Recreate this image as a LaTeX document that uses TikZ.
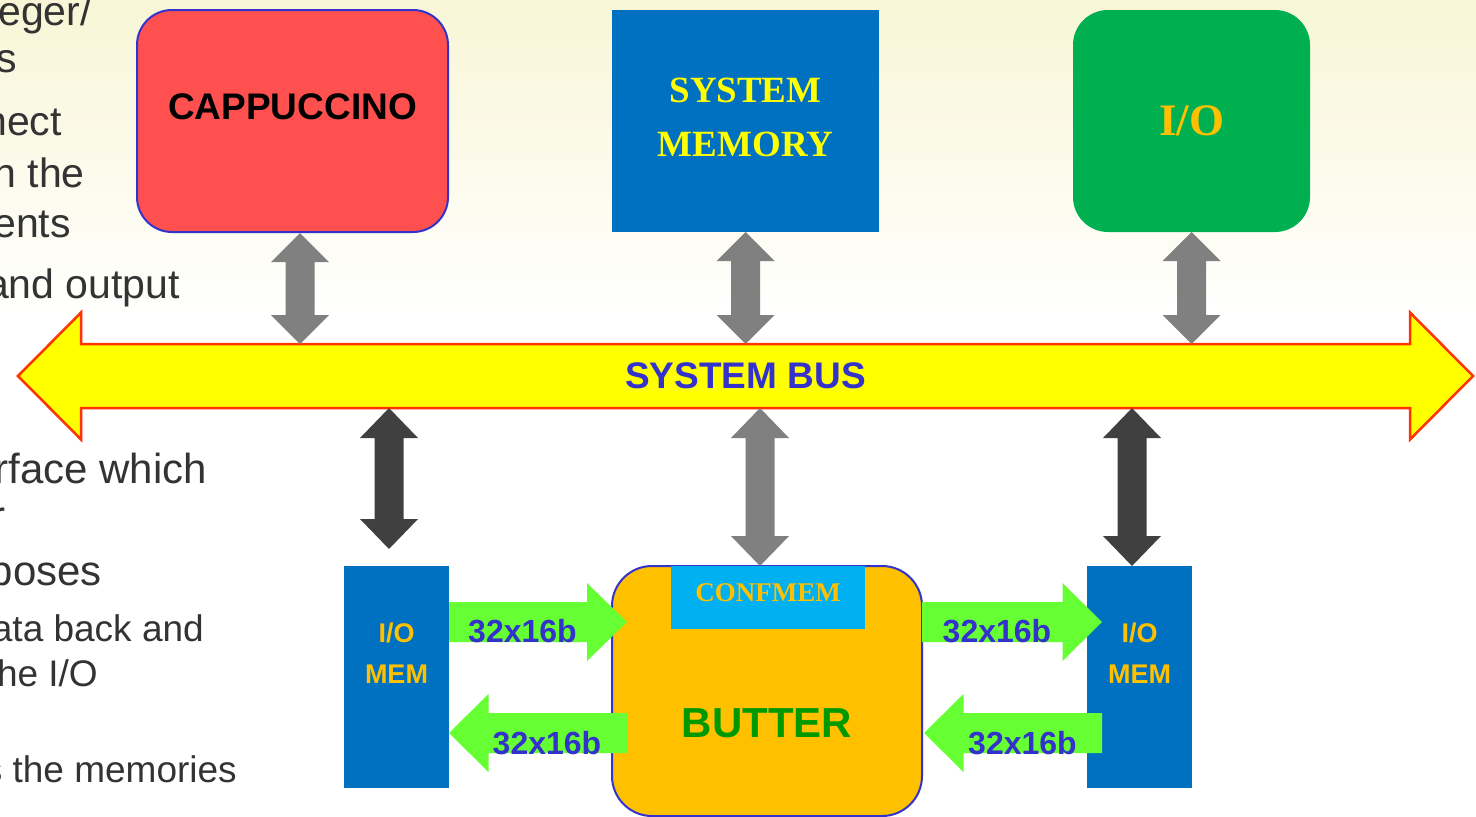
\documentclass[tikz,border=0pt]{standalone}
\usepackage{fontspec}
\setmainfont{Liberation Sans}
\newfontfamily\serifface{Liberation Serif}
\usetikzlibrary{calc}
\definecolor{bgtop}{HTML}{F8F6D6}
\definecolor{slidegray}{HTML}{333333}
\definecolor{capred}{HTML}{FF5050}
\definecolor{frameblue}{HTML}{3333CC}
\definecolor{memblue}{HTML}{0070C0}
\definecolor{iogreen}{HTML}{00B050}
\definecolor{gold}{HTML}{FFC000}
\definecolor{busyellow}{HTML}{FFFF00}
\definecolor{busedge}{HTML}{FF3300}
\definecolor{arrowgray}{HTML}{808080}
\definecolor{arrowdark}{HTML}{404040}
\definecolor{lime}{HTML}{66FF33}
\definecolor{cfcyan}{HTML}{00B0F0}
\definecolor{butgreen}{HTML}{009900}

% fat two-headed arrow: style, from, to, head length, shaft half width, head half width
\newcommand{\biarrow}[6]{%
  \path ($(#2)!#4!(#3)$) coordinate (hdA) ($(#3)!#4!(#2)$) coordinate (hdB);
  \path[#1] (#2) -- ($(hdA)!#6!90:(#3)$) -- ($(hdA)!#5!90:(#3)$) -- ($(hdB)!#5!90:(#3)$)
    -- ($(hdB)!#6!90:(#3)$) -- (#3) -- ($(hdB)!#6!-90:(#3)$) -- ($(hdB)!#5!-90:(#3)$)
    -- ($(hdA)!#5!-90:(#3)$) -- ($(hdA)!#6!-90:(#3)$) -- cycle;}
% fat one-headed arrow, same arguments
\newcommand{\onearrow}[6]{%
  \path ($(#3)!#4!(#2)$) coordinate (hdB);
  \path[#1] ($(#2)!#5!90:(#3)$) -- ($(hdB)!#5!90:(#3)$) -- ($(hdB)!#6!90:(#3)$) -- (#3)
    -- ($(hdB)!#6!-90:(#3)$) -- ($(hdB)!#5!-90:(#3)$) -- ($(#2)!#5!-90:(#3)$) -- cycle;}

\tikzset{
  slide/.style={anchor=base east,inner sep=0pt,text=slidegray,font=\fontsize{41}{48}\selectfont},
  slidebig/.style={slide,font=\fontsize{42}{50}\selectfont},
  slidesm/.style={slide,font=\fontsize{37}{44}\selectfont},
  block/.style={inner sep=0pt,outer sep=0pt},
  bits/.style={inner sep=0pt,text=frameblue,font=\bfseries\fontsize{32}{38}\selectfont},
  memtext/.style={inner sep=0pt,align=center,text=gold,font=\bfseries\fontsize{27}{41}\selectfont}
}

\begin{document}
\begin{tikzpicture}[x=1pt,y=-1pt]
\useasboundingbox (0,0) rectangle (1476,817);
\clip (0,0) rectangle (1476,817);
\shade[top color=bgtop,bottom color=white] (0,0) rectangle (1476,320);

% text of the slide, cut at the left edge
\node[slide] (t1) at (92,25) {eger/};
\node[slide] (t2) at (17,72) {s};
\node[slide] (t3) at (62,135) {nect};
\node[slide] (t4) at (85,187) {n the};
\node[slide] (t5) at (71,237) {ents};
\node[slide] (t6) at (180,298) {and output};
\node[slidebig] (t7) at (207,483) {rface which};
\node[slidebig] (t8) at (6,530) {r};
\node[slidebig] (t9) at (102,585) {poses};
\node[slidesm] (t10) at (204,641) {ata back and};
\node[slidesm] (t11) at (98,686) {he I/O};
\node[slidesm] (t12) at (237,782) {s the memories};

% system bus
\coordinate (busL) at (18,376);
\coordinate (busR) at (1473,376);
\biarrow{fill=busyellow,draw=busedge,line width=2.5pt}{busL}{busR}{63pt}{32pt}{63.5pt}
\node[block,minimum width=1200pt,minimum height=64pt,text=frameblue,
  font=\bfseries\fontsize{37}{44}\selectfont] (bus) at (745.5,376) {SYSTEM BUS};

% top row
\node[block,fill=capred,draw=frameblue,line width=2pt,rounded corners=35pt,
  minimum width=311pt,minimum height=222pt] (cap) at (292.5,121) {};
\node[inner sep=0pt,font=\bfseries\fontsize{37}{44}\selectfont] (capT) at (292.5,107) {CAPPUCCINO};
\node[block,fill=memblue,minimum width=267pt,minimum height=222pt] (sysmem) at (745.5,121) {};
\node[inner sep=0pt,align=center,text=busyellow,
  font=\serifface\bfseries\fontsize{37}{54}\selectfont] (sysmemT) at (745.5,117) {SYSTEM\\MEMORY};
\node[block,fill=iogreen,rounded corners=35pt,minimum width=237pt,minimum height=222pt,
  text=gold,font=\serifface\bfseries\fontsize{45}{54}\selectfont] (io) at (1191.5,121) {I/O};

% bottom row
\node[block,fill=memblue,minimum width=105pt,minimum height=222pt] (iomemL) at (396.5,677) {};
\node[memtext] (iomemLT) at (396.5,653.5) {I/O\\MEM};
\node[block,fill=memblue,minimum width=105pt,minimum height=222pt] (iomemR) at (1139.5,677) {};
\node[memtext] (iomemRT) at (1139.5,653.5) {I/O\\MEM};
\node[block,fill=gold,draw=frameblue,line width=2pt,rounded corners=40pt,
  minimum width=310pt,minimum height=250pt] (butter) at (767,691) {};
\node[inner sep=0pt,text=butgreen,font=\bfseries\fontsize{42}{50}\selectfont] (butterT) at (767,723) {BUTTER};
\node[block,fill=cfcyan,minimum width=194pt,minimum height=63pt] (confmem) at (768,597.5) {};
\node[inner sep=0pt,text=gold,font=\serifface\bfseries\fontsize{27}{32}\selectfont] (confmemT) at (768,593) {CONFMEM};

% links to the bus
\coordinate (capDn) at ($(cap.south)+(7.5,1)$);
\coordinate (capBus) at (capDn |- bus.north);
\coordinate (memBus) at (sysmem.south |- bus.north);
\coordinate (ioBus) at (io.south |- bus.north);
\biarrow{fill=arrowgray}{capDn}{capBus}{29pt}{14.5pt}{29pt}
\biarrow{fill=arrowgray}{sysmem.south}{memBus}{29pt}{14.5pt}{29pt}
\biarrow{fill=arrowgray}{io.south}{ioBus}{29pt}{14.5pt}{29pt}

\coordinate (memLUp) at ($(iomemL.north)+(-7.5,-17)$);
\coordinate (memLBus) at (memLUp |- bus.south);
\coordinate (cfUp) at ($(confmem.north)+(-8,0)$);
\coordinate (cfBus) at (cfUp |- bus.south);
\coordinate (memRUp) at ($(iomemR.north)+(-7.5,0)$);
\coordinate (memRBus) at (memRUp |- bus.south);
\biarrow{fill=arrowdark}{memLBus}{memLUp}{30pt}{14.5pt}{29pt}
\biarrow{fill=arrowgray}{cfBus}{cfUp}{30pt}{14.5pt}{29pt}
\biarrow{fill=arrowdark}{memRBus}{memRUp}{30pt}{14.5pt}{29pt}

% data paths
\coordinate (rowA) at (0,622);
\coordinate (rowB) at (0,733);
\coordinate (gA1) at (iomemL.east |- rowA);
\coordinate (gA2) at ($(butter.west |- rowA)+(15,0)$);
\coordinate (gB1) at ($(butter.west |- rowB)+(15,0)$);
\coordinate (gB2) at (iomemL.east |- rowB);
\coordinate (gC1) at (butter.east |- rowA);
\coordinate (gC2) at ($(iomemR.west |- rowA)+(15,0)$);
\coordinate (gD1) at ($(iomemR.west |- rowB)+(15,0)$);
\coordinate (gD2) at ($(butter.east |- rowB)+(2,0)$);
\onearrow{fill=lime}{gA1}{gA2}{40pt}{20pt}{39pt}
\onearrow{fill=lime}{gB1}{gB2}{39.5pt}{20pt}{39pt}
\onearrow{fill=lime}{gC1}{gC2}{39.5pt}{20pt}{39pt}
\onearrow{fill=lime}{gD1}{gD2}{39.5pt}{20pt}{39pt}
\node[bits] (bA) at (522.5,631.5) {32x16b};
\node[bits] (bB) at (547,743) {32x16b};
\node[bits] (bC) at (997,631.5) {32x16b};
\node[bits] (bD) at (1022.5,743) {32x16b};
\end{tikzpicture}
\end{document}
